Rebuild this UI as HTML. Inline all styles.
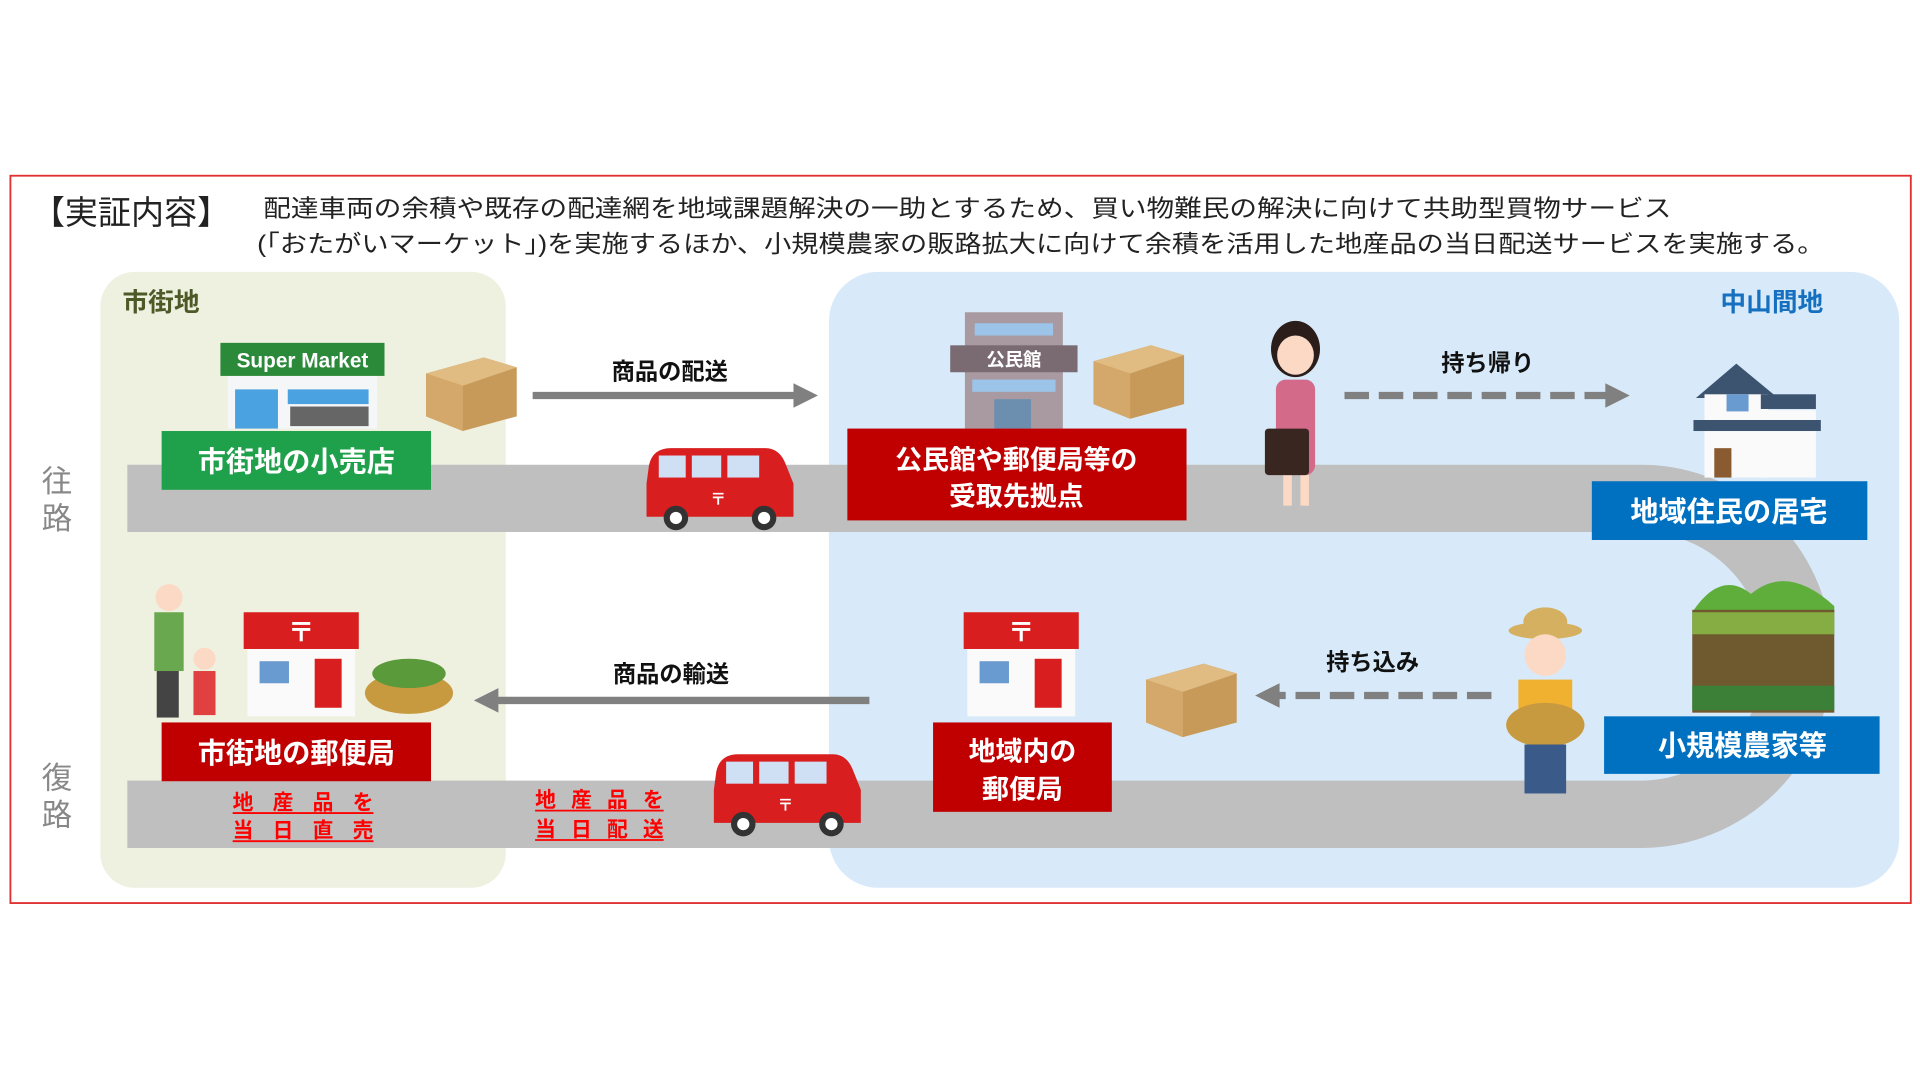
<!DOCTYPE html>
<html><head><meta charset="utf-8"><style>
html,body{margin:0;padding:0;background:#fff;width:1920px;height:1080px;overflow:hidden}
svg{display:block}
text{font-family:"Liberation Sans","Noto Sans CJK JP",sans-serif}
.b{font-weight:bold}
</style></head><body>
<svg width="1920" height="1080" viewBox="0 0 1568 882" xmlns="http://www.w3.org/2000/svg">
<rect x="0" y="0" width="1568" height="882" fill="#fff"/>
<rect x="8.5" y="143.5" width="1552" height="594" fill="#fff" stroke="#e03030" stroke-width="1.5"/>
<text x="26" y="183" font-size="27" fill="#222">【実証内容】</text>
<text x="215" y="177" font-size="19.5" fill="#222" textLength="1150" lengthAdjust="spacingAndGlyphs">配達車両の余積や既存の配達網を地域課題解決の一助とするため、買い物難民の解決に向けて共助型買物サービス</text>
<text x="210" y="206" font-size="19.5" fill="#222" textLength="1280" lengthAdjust="spacingAndGlyphs">(「おたがいマーケット」)を実施するほか、小規模農家の販路拡大に向けて余積を活用した地産品の当日配送サービスを実施する。</text>
<!-- panels -->
<rect x="82" y="222" width="331" height="503" rx="28" fill="#eef0e0"/>
<rect x="677" y="222" width="874" height="503" rx="40" fill="#d8eaf9"/>
<text x="100" y="254" font-size="21" class="b" fill="#4d5a28">市街地</text>
<text x="1405" y="254" font-size="21" class="b" fill="#1670c0">中山間地</text>
<!-- road -->
<path d="M104 407 H1340 A129 129 0 0 1 1340 665 H104" fill="none" stroke="#bfbfbf" stroke-width="55"/>
<text x="34" y="402" font-size="25" fill="#888">往</text>
<text x="34" y="432" font-size="25" fill="#888">路</text>
<text x="34" y="644" font-size="25" fill="#888">復</text>
<text x="34" y="674" font-size="25" fill="#888">路</text>
<!-- supermarket -->
<rect x="186" y="305" width="122" height="45" fill="#f4f6f8"/>
<rect x="180" y="280" width="134" height="27" fill="#2b8a3a"/>
<text x="247" y="300" font-size="17" class="b" fill="#fff" text-anchor="middle">Super Market</text>
<rect x="192" y="318" width="35" height="32" fill="#4aa3e0"/>
<rect x="235" y="318" width="66" height="12" fill="#4aa3e0"/>
<rect x="237" y="332" width="64" height="16" fill="#666"/>
<!-- boxes -->
<g id="box"><polygon points="348,305 395,292 422,300 422,340 378,352 348,340" fill="#c79a5a"/><polygon points="348,305 378,315 378,352 348,340" fill="#d4a86a"/><polygon points="348,305 395,292 422,300 378,315" fill="#e0bb82"/></g>
<rect x="132" y="352" width="220" height="48" fill="#1fa04a"/>
<text x="242" y="385" font-size="23" class="b" fill="#fff" text-anchor="middle">市街地の小売店</text>
<!-- arrow 1 -->
<text x="547" y="310" font-size="19" class="b" fill="#111" text-anchor="middle">商品の配送</text>
<line x1="435" y1="323" x2="650" y2="323" stroke="#808080" stroke-width="6"/>
<polygon points="648,313 668,323 648,333" fill="#808080"/>
<!-- van 1 -->
<g id="van"><path d="M530 380 Q533 366 548 366 H625 Q637 366 642 380 L648 395 V422 H528 V395 Z" fill="#d81e1e"/>
<rect x="538" y="372" width="22" height="18" fill="#cfe0f4"/><rect x="565" y="372" width="24" height="18" fill="#cfe0f4"/><rect x="594" y="372" width="26" height="18" fill="#cfe0f4"/>
<text x="580" y="412" font-size="13" fill="#fff" class="b">〒</text>
<circle cx="552" cy="423" r="10" fill="#333"/><circle cx="552" cy="423" r="5" fill="#fff"/>
<circle cx="624" cy="423" r="10" fill="#333"/><circle cx="624" cy="423" r="5" fill="#fff"/></g>
<!-- kouminkan -->
<rect x="788" y="255" width="80" height="95" fill="#a89aa0"/>
<rect x="776" y="282" width="104" height="22" fill="#7a6a72"/>
<text x="828" y="299" font-size="15" class="b" fill="#fff" text-anchor="middle">公民館</text>
<rect x="796" y="264" width="64" height="10" fill="#9cc4e8"/>
<rect x="794" y="310" width="68" height="10" fill="#9cc4e8"/>
<rect x="812" y="326" width="30" height="24" fill="#6c8fb0"/>
<use href="#box" transform="translate(545,-10)"/>
<rect x="692" y="350" width="277" height="75" fill="#c00000"/>
<text x="830" y="383" font-size="22" class="b" fill="#fff" text-anchor="middle">公民館や郵便局等の</text>
<text x="830" y="413" font-size="22" class="b" fill="#fff" text-anchor="middle">受取先拠点</text>
<!-- woman -->
<ellipse cx="1058" cy="285" rx="20" ry="23" fill="#2a1d1a"/>
<ellipse cx="1058" cy="290" rx="15" ry="16" fill="#fbd9c4"/>
<rect x="1042" y="310" width="32" height="78" rx="8" fill="#d46a8a"/>
<rect x="1048" y="388" width="7" height="25" fill="#fbd9c4"/><rect x="1062" y="388" width="7" height="25" fill="#fbd9c4"/>
<rect x="1033" y="350" width="36" height="38" rx="3" fill="#3a2620"/>
<!-- dashed arrow -->
<text x="1215" y="303" font-size="19" class="b" fill="#111" text-anchor="middle">持ち帰り</text>
<line x1="1098" y1="323" x2="1313" y2="323" stroke="#808080" stroke-width="6" stroke-dasharray="20 8"/>
<polygon points="1311,313 1331,323 1311,333" fill="#808080"/>
<!-- house -->
<polygon points="1385,325 1418,297 1452,325" fill="#3d5470"/>
<rect x="1392" y="322" width="52" height="68" fill="#fafafa"/>
<rect x="1438" y="335" width="45" height="55" fill="#fafafa"/>
<rect x="1383" y="343" width="104" height="9" fill="#3d5470"/>
<rect x="1438" y="322" width="45" height="12" fill="#3d5470"/>
<rect x="1400" y="366" width="14" height="24" fill="#8a5a30"/>
<rect x="1410" y="322" width="18" height="14" fill="#6a9bd0"/>
<rect x="1300" y="393" width="225" height="48" fill="#0070c0"/>
<text x="1412" y="426" font-size="23" class="b" fill="#fff" text-anchor="middle">地域住民の居宅</text>
<!-- farm -->
<path d="M1382 500 Q1405 465 1430 485 Q1460 460 1498 495 V500 Z" fill="#5fae3c"/>
<rect x="1382" y="498" width="116" height="84" fill="#6e5a2e"/>
<rect x="1382" y="500" width="116" height="18" fill="#8cc04a" opacity=".8"/>
<rect x="1382" y="560" width="116" height="20" fill="#2f8a3a" opacity=".8"/>
<rect x="1310" y="585" width="225" height="47" fill="#0070c0"/>
<text x="1423" y="617" font-size="23" class="b" fill="#fff" text-anchor="middle">小規模農家等</text>
<!-- farmer -->
<ellipse cx="1262" cy="515" rx="30" ry="7" fill="#d4b060"/>
<ellipse cx="1262" cy="508" rx="18" ry="12" fill="#d4b060"/>
<ellipse cx="1262" cy="535" rx="17" ry="17" fill="#fbd9c4"/>
<rect x="1240" y="555" width="44" height="40" fill="#f0b030"/>
<ellipse cx="1262" cy="592" rx="32" ry="18" fill="#c89a40"/>
<rect x="1245" y="608" width="34" height="40" fill="#3a5a8a"/>
<!-- dashed arrow left -->
<text x="1121" y="547" font-size="19" class="b" fill="#111" text-anchor="middle">持ち込み</text>
<line x1="1218" y1="568" x2="1043" y2="568" stroke="#808080" stroke-width="6" stroke-dasharray="20 8"/>
<polygon points="1045,558 1025,568 1045,578" fill="#808080"/>
<use href="#box" transform="translate(588,250)"/>
<!-- post office local -->
<g id="po"><rect x="790" y="500" width="88" height="85" fill="#fafafa"/><rect x="787" y="500" width="94" height="30" fill="#d81e1e"/>
<text x="834" y="524" font-size="22" class="b" fill="#fff" text-anchor="middle">〒</text>
<rect x="800" y="540" width="24" height="18" fill="#6a9bd0"/><rect x="845" y="538" width="22" height="40" fill="#d81e1e"/></g>
<rect x="762" y="590" width="146" height="73" fill="#c00000"/>
<text x="835" y="621" font-size="22" class="b" fill="#fff" text-anchor="middle">地域内の</text>
<text x="835" y="652" font-size="22" class="b" fill="#fff" text-anchor="middle">郵便局</text>
<!-- arrow left -->
<text x="548" y="557" font-size="19" class="b" fill="#111" text-anchor="middle">商品の輸送</text>
<line x1="710" y1="572" x2="405" y2="572" stroke="#808080" stroke-width="6"/>
<polygon points="407,562 387,572 407,582" fill="#808080"/>
<use href="#van" transform="translate(55,250)"/>
<!-- left bottom -->
<use href="#po" transform="translate(-588,0)"/>
<circle cx="138" cy="488" r="11" fill="#fbd9c4"/>
<rect x="126" y="500" width="24" height="48" fill="#6aa84f"/>
<rect x="128" y="548" width="18" height="38" fill="#444"/>
<circle cx="167" cy="538" r="9" fill="#fbd9c4"/>
<rect x="158" y="548" width="18" height="36" fill="#e04040"/>
<ellipse cx="334" cy="566" rx="36" ry="17" fill="#c89a40"/>
<ellipse cx="334" cy="550" rx="30" ry="12" fill="#5a9a3a"/>
<rect x="132" y="590" width="220" height="48" fill="#c00000"/>
<text x="242" y="623" font-size="23" class="b" fill="#fff" text-anchor="middle">市街地の郵便局</text>
<g font-size="17" class="b" fill="#ff0000">
<text x="190" y="661" textLength="115">地産品を</text><text x="190" y="684" textLength="115">当日直売</text>
<text x="437" y="659" textLength="105">地産品を</text><text x="437" y="683" textLength="105">当日配送</text>
</g>
<g stroke="#ff0000" stroke-width="1.5"><line x1="190" y1="664" x2="305" y2="664"/><line x1="190" y1="687" x2="305" y2="687"/><line x1="437" y1="662" x2="542" y2="662"/><line x1="437" y1="686" x2="542" y2="686"/></g>
</svg>
</body></html>
